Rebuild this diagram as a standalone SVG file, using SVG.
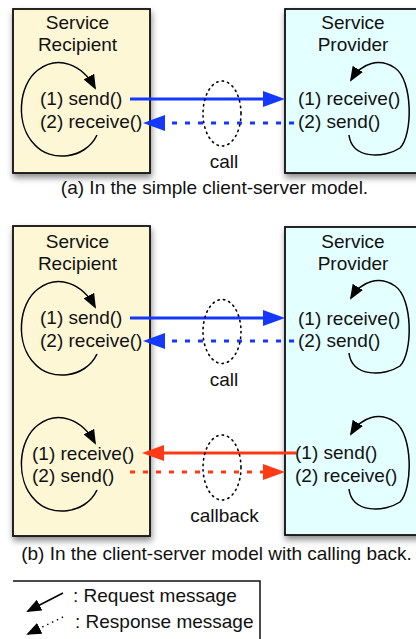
<svg xmlns="http://www.w3.org/2000/svg" width="416" height="639" viewBox="0 0 416 639">
<style>
text{font-family:"Liberation Sans",Arial,sans-serif;font-size:19px;fill:#111}
.t{text-anchor:middle}
.rec{fill:#FEF7D6;stroke:#111;stroke-width:1.8}
.pro{fill:#E4FFFF;stroke:#111;stroke-width:1.8}
.loop{fill:none;stroke:#000;stroke-width:1.5}
.ell{fill:none;stroke:#000;stroke-width:1.6;stroke-dasharray:1.4 4.2;stroke-linecap:round}
.bs{stroke:#1438FF;stroke-width:3;fill:none}
.rs{stroke:#FF3815;stroke-width:3;fill:none}
.dash{stroke-dasharray:5 8}
</style>
<defs>
<filter id="sh" x="-20%" y="-20%" width="140%" height="140%">
<feDropShadow dx="1" dy="4" stdDeviation="3" flood-color="#000" flood-opacity="0.45"/>
</filter>
<marker id="ab" markerUnits="userSpaceOnUse" markerWidth="22" markerHeight="16" refX="0" refY="8" orient="auto"><path d="M0,0 L22,8 L0,16 z" fill="#1438FF"/></marker>
<marker id="ar" markerUnits="userSpaceOnUse" markerWidth="22" markerHeight="16" refX="0" refY="8" orient="auto"><path d="M0,0 L22,8 L0,16 z" fill="#FF3815"/></marker>
<marker id="ak" markerUnits="userSpaceOnUse" markerWidth="15" markerHeight="12" refX="13" refY="6" orient="auto"><path d="M0,0 L15,6 L0,12 z" fill="#000"/></marker>
</defs>

<g id="recipient-a">
<rect class="rec" x="13" y="9" width="137" height="164" filter="url(#sh)"/>
<text class="t" x="77.5" y="29">Service</text>
<text class="t" x="77.5" y="51">Recipient</text>
<text x="40" y="105">(1) send()</text>
<text x="40" y="128">(2) receive()</text>
<path class="loop" marker-end="url(#ak)" d="M97,135 C85,160 50,162 35,145 C15,125 18,85 38,70 C58,55 82,64 95,88"/>
</g>
<g id="provider-a">
<rect class="pro" x="285" y="9" width="145" height="164" filter="url(#sh)"/>
<text class="t" x="353" y="29">Service</text>
<text class="t" x="353" y="51">Provider</text>
<text x="298" y="105">(1) receive()</text>
<text x="298" y="128">(2) send()</text>
<path class="loop" marker-end="url(#ak)" d="M349,135 C352,160 385,158 400,148 C413,135 413,80 395,68 C380,58 362,62 351,80"/>
</g>

<g id="recipient-b">
<rect class="rec" x="13" y="226" width="137" height="310" filter="url(#sh)"/>
<text class="t" x="77.5" y="248">Service</text>
<text class="t" x="77.5" y="270">Recipient</text>
<text x="40" y="324">(1) send()</text>
<text x="40" y="347">(2) receive()</text>
<path class="loop" marker-end="url(#ak)" transform="translate(0,219)" d="M97,135 C85,160 50,162 35,145 C15,125 18,85 38,70 C58,55 82,64 95,88"/>
<text x="32" y="460">(1) receive()</text>
<text x="32" y="482">(2) send()</text>
<path class="loop" marker-end="url(#ak)" transform="translate(0,355)" d="M97,135 C85,160 50,162 35,145 C15,125 18,85 38,70 C58,55 82,64 95,88"/>
</g>
<g id="provider-b">
<rect class="pro" x="285" y="227" width="145" height="308" filter="url(#sh)"/>
<text class="t" x="353" y="248">Service</text>
<text class="t" x="353" y="270">Provider</text>
<text x="298" y="325">(1) receive()</text>
<text x="298" y="347">(2) send()</text>
<path class="loop" marker-end="url(#ak)" transform="translate(0,218)" d="M349,135 C352,160 385,158 400,148 C413,135 413,80 395,68 C380,58 362,62 351,80"/>
<text x="295" y="459">(1) send()</text>
<text x="295" y="482">(2) receive()</text>
<path class="loop" marker-end="url(#ak)" transform="translate(0,354)" d="M349,135 C352,160 385,158 400,148 C413,135 413,80 395,68 C380,58 362,62 351,80"/>
</g>

<g id="connectors">
<line class="bs" x1="130" y1="99" x2="263" y2="99" marker-end="url(#ab)"/>
<line class="bs dash" x1="294" y1="123" x2="165" y2="123" marker-end="url(#ab)"/>
<line class="bs" x1="130" y1="318" x2="263" y2="318" marker-end="url(#ab)"/>
<line class="bs dash" x1="294" y1="341" x2="165" y2="341" marker-end="url(#ab)"/>
<line class="rs" x1="296" y1="453" x2="164" y2="453" marker-end="url(#ar)"/>
<line class="rs dash" x1="130" y1="472" x2="263" y2="472" marker-end="url(#ar)"/>
</g>

<g id="call-a">
<ellipse class="ell" cx="222" cy="113.5" rx="19" ry="32.5"/>
<text class="t" x="224" y="168">call</text>
</g>
<g id="call-b">
<ellipse class="ell" cx="222" cy="331.5" rx="19" ry="32"/>
<text class="t" x="224" y="386">call</text>
</g>
<g id="callback">
<ellipse class="ell" cx="222" cy="467.5" rx="19" ry="32.5"/>
<text class="t" x="224.5" y="522">callback</text>
</g>

<text class="t" x="214.5" y="194">(a) In the simple client-server model.</text>
<text class="t" x="216.5" y="560">(b) In the client-server model with calling back.</text>

<g id="legend">
<path d="M13,581 H260 V640" fill="none" stroke="#111" stroke-width="1.5"/>
<line x1="63" y1="593" x2="28" y2="611" stroke="#000" stroke-width="1.5" marker-end="url(#ak)"/>
<line x1="63" y1="617" x2="28" y2="634" stroke="#000" stroke-width="1.5" stroke-dasharray="1.4 4" marker-end="url(#ak)"/>
<text x="73" y="602">: Request message</text>
<text x="75" y="628">: Response message</text>
</g>
</svg>
